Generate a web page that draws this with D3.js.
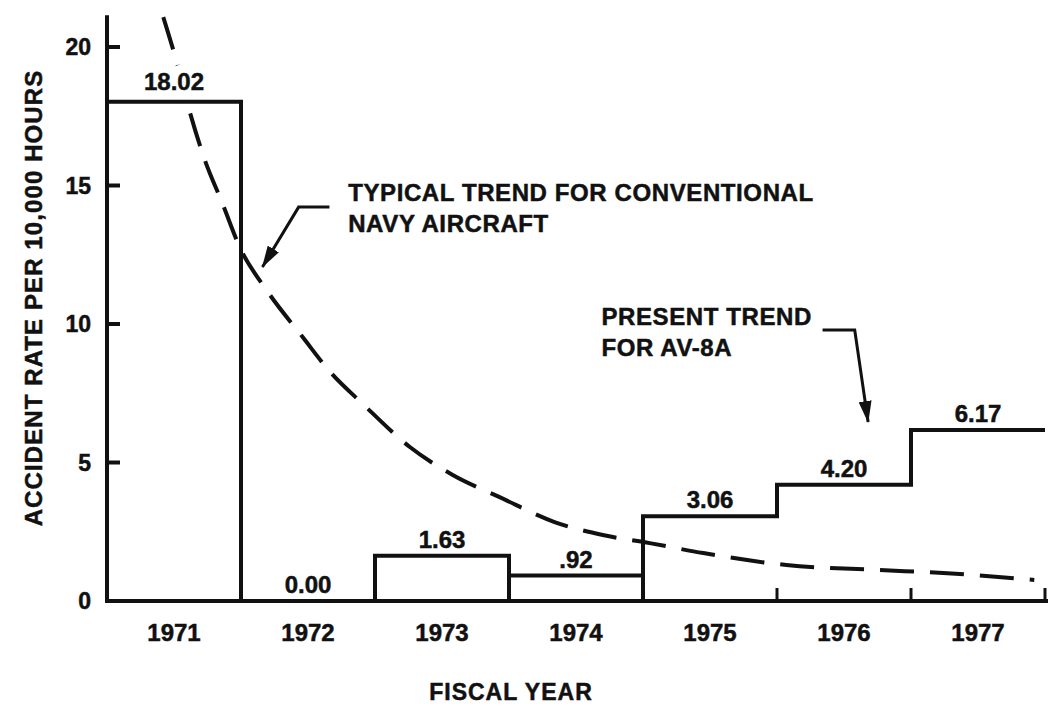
<!DOCTYPE html>
<html>
<head>
<meta charset="utf-8">
<script src="https://cdn.jsdelivr.net/npm/d3@7"></script>
<style>
  html, body { margin: 0; padding: 0; background: #fff; }
  svg { display: block; }
  text { font-family: "Liberation Sans", Arial, sans-serif; font-weight: bold; fill: #111; stroke: #111; stroke-width: 0.5px; }
</style>
</head>
<body>
<div id="chart"></div>
<script>
(function () {
    'use strict';

    // fiscal years and accident rates per 10,000 hours (AV-8A)
    const years = ['1971', '1972', '1973', '1974', '1975', '1976', '1977'];
    const rates = [18.02, 0.00, 1.63, 0.92, 3.06, 4.20, 6.17];
    const rateLabels = ['18.02', '0.00', '1.63', '.92', '3.06', '4.20', '6.17'];
    // years drawn as closed boxes down to the axis
    const boxedYears = ['1971', '1973', '1974'];

    const yTicks = [0, 5, 10, 15, 20];

    // typical trend for conventional navy aircraft
    const trendYear = [1970.92, 1971.02, 1971.12, 1971.23, 1971.36, 1971.49, 1971.70, 1971.96,
        1972.16, 1972.41, 1972.76, 1973.08, 1973.43, 1973.84, 1974.20, 1974.55, 1974.95,
        1975.57, 1976.25, 1976.74, 1977.42];
    const trendRate = [21.08, 19.46, 17.62, 15.92, 14.37, 12.78, 11.16, 9.53,
        8.30, 7.11, 5.56, 4.55, 3.75, 2.85, 2.38, 2.09, 1.73,
        1.30, 1.12, 1.01, 0.76];

    const width = 1054;
    const height = 707;

    const x = d3.scaleLinear().domain([1970.5, 1977.5]).range([107, 1045]);
    const y = d3.scaleLinear().domain([0, 20]).range([601, 47]);

    const svg = d3.select('#chart').append('svg')
        .attr('width', width)
        .attr('height', height);

    svg.append('defs').append('marker')
        .attr('id', 'head')
        .attr('markerUnits', 'userSpaceOnUse')
        .attr('viewBox', '0 0 22 13')
        .attr('refX', 21)
        .attr('refY', 6.5)
        .attr('markerWidth', 22)
        .attr('markerHeight', 13)
        .attr('orient', 'auto')
        .append('path')
        .attr('d', 'M0,0 L22,6.5 L0,13 Z')
        .attr('fill', '#111');

    // trend curve
    const trendLine = d3.line()
        .x((d, i) => x(trendYear[i]))
        .y(d => y(d))
        .curve(d3.curveMonotoneX);

    svg.append('path')
        .attr('d', trendLine(trendRate))
        .attr('fill', 'none')
        .attr('stroke', '#111')
        .attr('stroke-width', 4)
        .attr('stroke-dasharray', '34,16');

    // value labels, with a white halo so the dashes stop short of them
    const valueLabels = svg.append('g')
        .attr('text-anchor', 'middle')
        .attr('font-size', 24)
        .selectAll('g')
        .data(years)
        .join('g')
        .attr('transform', (d, i) => `translate(${x(+d)},${y(rates[i]) - (i === 0 ? 12 : 8)})`);
    valueLabels.append('text')
        .style('stroke', '#fff')
        .style('stroke-width', '18px')
        .style('stroke-linejoin', 'round')
        .style('fill', '#fff')
        .text((d, i) => rateLabels[i]);
    valueLabels.append('text')
        .text((d, i) => rateLabels[i]);

    // step outline of the rates
    const steps = years.map((yr, i) => [+yr - 0.5, rates[i]]);
    steps.push([+years[years.length - 1] + 0.5, rates[rates.length - 1]]);

    svg.append('path')
        .attr('d', d3.line().x(d => x(d[0])).y(d => y(d[1])).curve(d3.curveStepAfter)(steps))
        .attr('fill', 'none')
        .attr('stroke', '#111')
        .attr('stroke-width', 4);

    const boxes = years.map((yr, i) => ({ yr: +yr, v: rates[i] })).filter((d, i) => boxedYears.includes(years[i]));
    svg.append('g')
        .selectAll('path')
        .data(boxes)
        .join('path')
        .attr('d', d => `M${x(d.yr - 0.5)},${y(0)}V${y(d.v)}M${x(d.yr + 0.5)},${y(0)}V${y(d.v)}`)
        .attr('fill', 'none')
        .attr('stroke', '#111')
        .attr('stroke-width', 4);

    // axes
    const axes = svg.append('g').attr('stroke', '#111').attr('stroke-width', 4);
    axes.append('line')
        .attr('x1', x(1970.5)).attr('x2', x(1970.5))
        .attr('y1', y(0) + 2).attr('y2', y(21.15));
    axes.append('line')
        .attr('x1', x(1970.5) - 2).attr('x2', x(1977.5) + 3)
        .attr('y1', y(0)).attr('y2', y(0));

    axes.selectAll('.ytick')
        .data(yTicks.filter(d => d > 0))
        .join('line')
        .attr('x1', x(1970.5)).attr('x2', x(1970.5) + 13)
        .attr('y1', d => y(d)).attr('y2', d => y(d));

    axes.selectAll('.xtick')
        .data(years.map(yr => +yr + 0.5))
        .join('line')
        .attr('x1', d => x(d)).attr('x2', d => x(d))
        .attr('y1', y(0)).attr('y2', y(0) - 13)
        .attr('stroke-width', 3);

    svg.append('g')
        .attr('text-anchor', 'end')
        .attr('font-size', 23)
        .selectAll('text')
        .data(yTicks)
        .join('text')
        .attr('x', x(1970.5) - 16)
        .attr('y', d => y(d))
        .attr('dy', '0.36em')
        .text(d => d);

    svg.append('g')
        .attr('text-anchor', 'middle')
        .attr('font-size', 24)
        .selectAll('text')
        .data(years)
        .join('text')
        .attr('x', d => x(+d))
        .attr('y', y(0) + 40)
        .text(d => d);

    // axis titles
    svg.append('text')
        .attr('transform', `translate(42,${(y(0) + y(20)) / 2 - 26}) rotate(-90)`)
        .attr('text-anchor', 'middle')
        .attr('font-size', 24)
        .attr('letter-spacing', 1.1)
        .text('ACCIDENT RATE PER 10,000 HOURS');

    svg.append('text')
        .attr('x', 511)
        .attr('y', 700)
        .attr('text-anchor', 'middle')
        .attr('font-size', 23)
        .attr('letter-spacing', 1)
        .text('FISCAL YEAR');

    // annotations
    const notes = [
        { lines: ['TYPICAL TREND FOR CONVENTIONAL', 'NAVY AIRCRAFT'], yr: 1972.30, rate: 14.45,
          leader: [[1972.16, 14.22], [1971.93, 14.22], [1971.66, 12.06]] },
        { lines: ['PRESENT TREND', 'FOR AV-8A'], yr: 1974.19, rate: 9.96,
          leader: [[1975.84, 9.78], [1976.08, 9.78], [1976.18, 6.46]] }
    ];

    const note = svg.append('g').selectAll('g').data(notes).join('g');

    note.append('text')
        .attr('font-size', 24)
        .attr('letter-spacing', 0.6)
        .selectAll('tspan')
        .data(d => d.lines.map(l => ({ l, d })))
        .join('tspan')
        .attr('x', t => x(t.d.yr))
        .attr('y', (t, i) => y(t.d.rate) + i * 31)
        .text(t => t.l);

    note.append('path')
        .attr('d', d => d3.line().x(p => x(p[0])).y(p => y(p[1]))(d.leader))
        .attr('fill', 'none')
        .attr('stroke', '#111')
        .attr('stroke-width', 3)
        .attr('marker-end', 'url(#head)');
})();
</script>
</body>
</html>
